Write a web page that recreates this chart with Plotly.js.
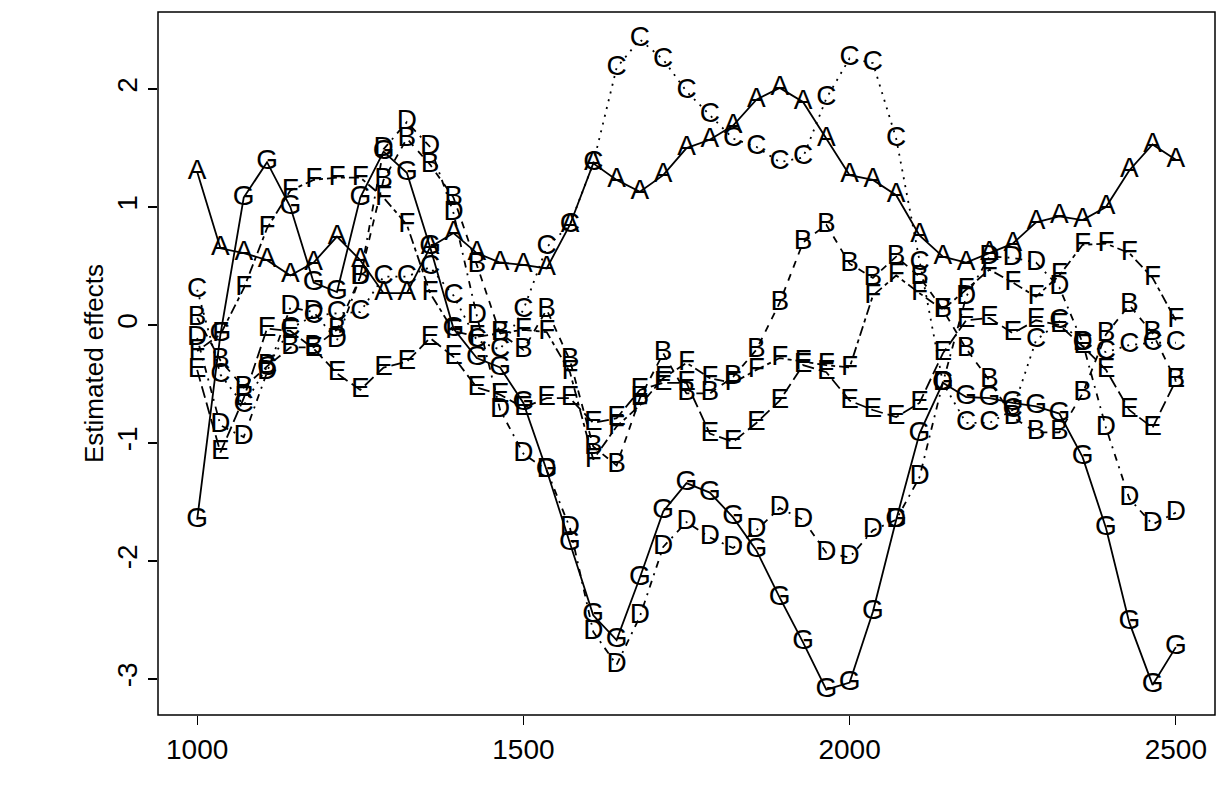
<!DOCTYPE html>
<html><head><meta charset="utf-8">
<script src="https://cdn.plot.ly/plotly-3.0.1.min.js"></script>
<style>html,body{margin:0;padding:0;background:#fff}#chart{width:1220px;height:799px}</style>
</head><body><div id="chart"></div>
<script>
var xs = [1000, 1035.7, 1071.4, 1107.1, 1142.9, 1178.6, 1214.3, 1250, 1285.7, 1321.4, 1357.1, 1392.9, 1428.6, 1464.3, 1500, 1535.7, 1571.4, 1607.1, 1642.9, 1678.6, 1714.3, 1750, 1785.7, 1821.4, 1857.1, 1892.9, 1928.6, 1964.3, 2000, 2035.7, 2071.4, 2107.1, 2142.9, 2178.6, 2214.3, 2250, 2285.7, 2321.4, 2357.1, 2392.9, 2428.6, 2464.3, 2500];
var seriesA = [1.30,0.65,0.61,0.55,0.42,0.53,0.75,0.55,0.27,0.27,0.66,0.78,0.61,0.53,0.51,0.48,0.85,1.37,1.23,1.13,1.27,1.50,1.57,1.69,1.91,2.01,1.89,1.58,1.27,1.23,1.10,0.76,0.58,0.53,0.61,0.69,0.87,0.92,0.89,1.00,1.31,1.53,1.40];
var seriesB = [0.06,-0.30,-0.53,-0.35,-0.19,-0.19,-0.04,0.41,1.23,1.58,1.36,1.08,0.51,-0.07,-0.21,0.13,-0.30,-1.03,-1.19,-0.62,-0.24,-0.58,-0.58,-0.44,-0.21,0.19,0.70,0.85,0.52,0.40,0.58,0.41,0.13,-0.20,-0.47,-0.78,-0.91,-0.91,-0.58,-0.08,0.17,-0.07,-0.47];
var seriesC = [0.30,-0.42,-0.68,-0.36,-0.03,0.08,0.10,0.11,0.41,0.41,0.49,0.25,-0.13,-0.21,0.13,0.66,0.85,1.37,2.18,2.42,2.25,1.98,1.78,1.58,1.51,1.38,1.42,1.92,2.26,2.22,1.58,0.53,-0.49,-0.83,-0.83,-0.72,-0.13,0.03,-0.15,-0.23,-0.17,-0.15,-0.15];
var seriesD = [-0.11,-0.85,-0.95,-0.40,0.15,0.11,-0.13,0.41,1.49,1.72,1.51,0.95,0.08,-0.72,-1.09,-1.23,-1.72,-2.60,-2.88,-2.47,-1.88,-1.67,-1.80,-1.89,-1.74,-1.55,-1.65,-1.93,-1.97,-1.74,-1.65,-1.29,-0.49,0.24,0.58,0.57,0.53,0.32,-0.15,-0.87,-1.47,-1.69,-1.59];
var seriesE = [-0.38,-1.08,-0.62,-0.03,-0.05,-0.20,-0.41,-0.55,-0.36,-0.31,-0.11,-0.27,-0.53,-0.59,-0.70,-0.62,-0.62,-0.83,-0.79,-0.55,-0.49,-0.49,-0.92,-0.99,-0.83,-0.64,-0.34,-0.40,-0.64,-0.72,-0.78,-0.66,-0.24,0.04,0.06,-0.07,0.04,0.00,-0.18,-0.38,-0.72,-0.87,-0.47];
var seriesF = [-0.22,-0.08,0.31,0.82,1.14,1.23,1.25,1.25,1.08,0.85,0.27,-0.05,-0.10,-0.07,-0.04,-0.06,-0.40,-1.14,-0.86,-0.68,-0.45,-0.32,-0.45,-0.49,-0.38,-0.28,-0.31,-0.34,-0.36,0.25,0.42,0.27,0.13,0.30,0.47,0.36,0.24,0.42,0.68,0.69,0.61,0.40,0.04];
var seriesG = [-1.65,-0.08,1.08,1.38,1.00,0.36,0.28,1.08,1.47,1.29,0.66,-0.03,-0.28,-0.36,-0.66,-1.23,-1.85,-2.46,-2.67,-2.14,-1.58,-1.34,-1.42,-1.63,-1.91,-2.31,-2.69,-3.09,-3.03,-2.43,-1.65,-0.92,-0.49,-0.61,-0.62,-0.66,-0.69,-0.75,-1.12,-1.72,-2.52,-3.05,-2.73];
var seriesNames = ['A','B','C','D','E','F','G'];
var seriesValues = [seriesA, seriesB, seriesC, seriesD, seriesE, seriesF, seriesG];
var dashes = ['solid','7px,7px','2px,6px','2px,6px,7px,6px','12px,5px','4px,4px,10px,4px','solid'];
var xTicks = [1000, 1500, 2000, 2500];
var yTicks = [-3, -2, -1, 0, 1, 2];

var FONT = 'Liberation Sans, Arial, Helvetica, sans-serif';
var FS = 28;
var traces = seriesNames.map(function(name, k){
  return {
    type: 'scatter', mode: 'lines+text', x: xs, y: seriesValues[k],
    text: xs.map(function(){return name;}),
    textposition: 'middle center',
    textfont: {family: FONT, size: FS, color: '#000'},
    line: {color: '#000', width: 1.8, dash: dashes[k]},
    hoverinfo: 'skip', showlegend: false, cliponaxis: false
  };
});
var layout = {
  width: 1220, height: 799,
  margin: {l: 158, r: 5, t: 12, b: 84},
  paper_bgcolor: '#fff', plot_bgcolor: '#fff',
  font: {family: FONT, size: FS, color: '#000'},
  xaxis: {range: [940, 2560], tickvals: xTicks, ticktext: xTicks.map(String),
    ticks: 'outside', ticklen: 9, tickwidth: 1.3, tickcolor: '#000',
    showgrid: false, zeroline: false, showline: false,
    tickfont: {family: FONT, size: FS, color: '#000'}},
  yaxis: {range: [-3.305, 2.653], tickvals: yTicks, ticktext: yTicks.map(function(v){return v<0?'-'+Math.abs(v):String(v);}),
    ticks: 'outside', ticklen: 9, tickwidth: 1.3, tickcolor: '#000', tickangle: -90,
    showgrid: false, zeroline: false, showline: false,
    tickfont: {family: FONT, size: FS, color: '#000'},
    title: {text: 'Estimated effects', font: {family: FONT, size: 26, color: '#000'}, standoff: 0}},
  shapes: [{type: 'rect', xref: 'paper', yref: 'paper', x0: 0, y0: 0, x1: 1, y1: 1,
    line: {color: '#000', width: 1.5}}]
};
Plotly.newPlot('chart', traces, layout, {staticPlot: true, displayModeBar: false});
</script></body></html>
